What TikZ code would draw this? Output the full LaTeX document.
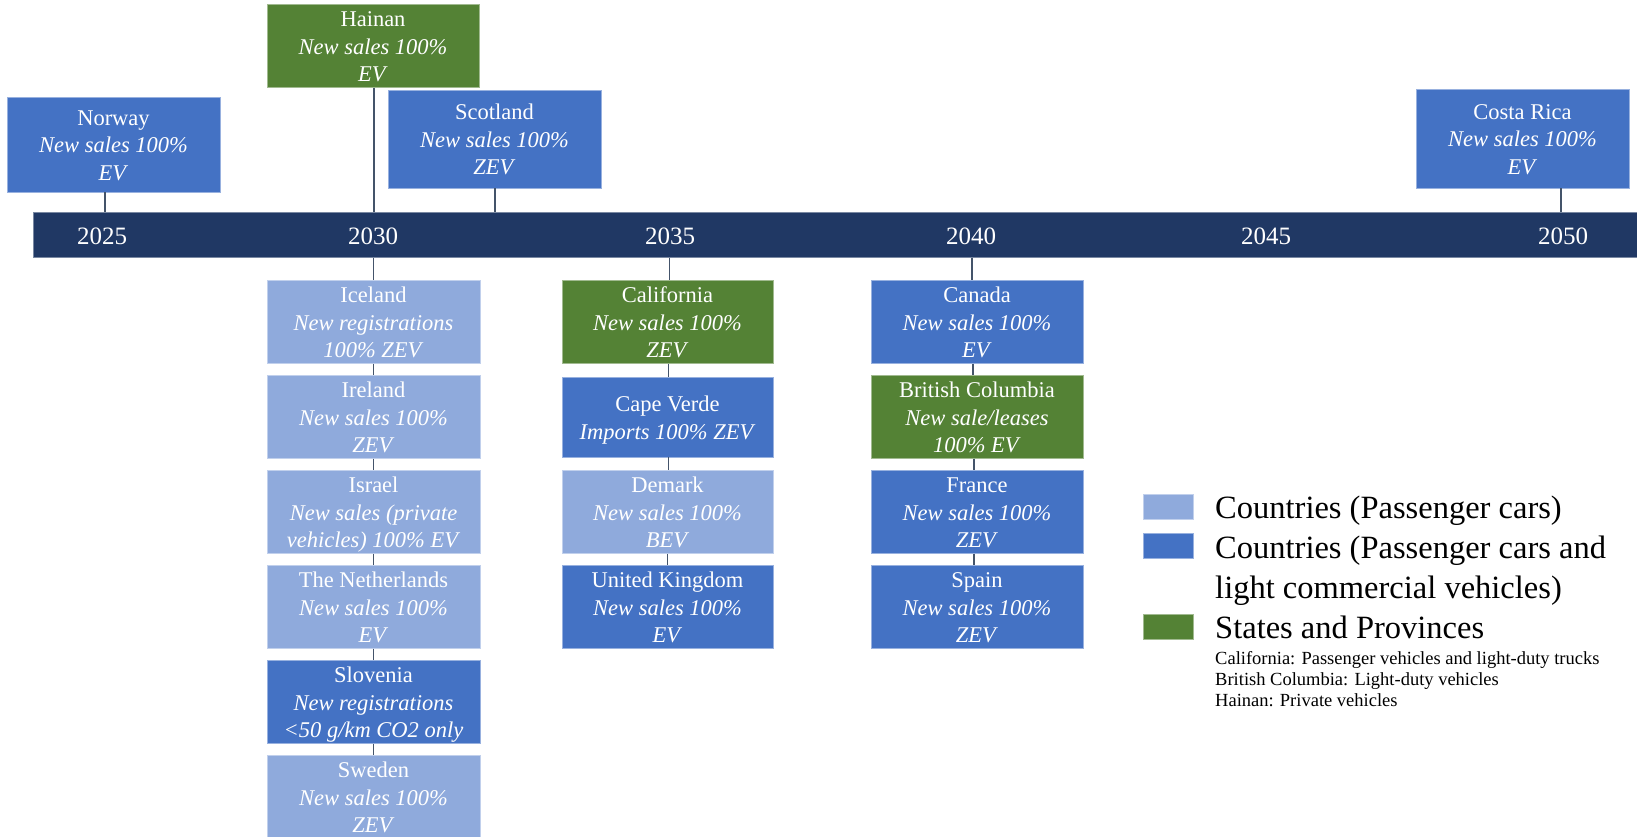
\documentclass[tikz,border=0pt]{standalone}
\usepackage{fontspec}
\setmainfont{Liberation Serif}
\definecolor{lb}{HTML}{8FAADC}
\definecolor{mb}{HTML}{4472C4}
\definecolor{gr}{HTML}{548235}
\definecolor{navy}{HTML}{203864}
\definecolor{connc}{HTML}{44546A}
\newcommand\boxfont{\fontsize{22.5}{27.5}\selectfont}
\newcommand\yearfont{\fontsize{25}{29}\selectfont}
\newcommand\legfont{\fontsize{32.5}{39}\selectfont}
\newcommand\smallleg{\fontsize{18.5}{21}\selectfont}
\newcommand\stl[1]{\rule[-5.5pt]{0pt}{27.5pt}#1}
\tikzset{
  ev/.style={rectangle, fill=#1, draw=#1!55!white, line width=0.8pt, text=white,
    inner sep=0pt, minimum width=213pt, minimum height=80pt, align=center, font=\boxfont},
  conn/.style={draw=connc, line width=1.3pt},
  year/.style={text=white, font=\yearfont, inner sep=0pt},
  swatch/.style={rectangle, fill=#1, draw=#1!55!white, line width=0.6pt, inner sep=0pt,
    minimum width=50pt, minimum height=25pt},
  legtext/.style={font=\legfont, inner sep=0pt, anchor=base west},
  legsmall/.style={font=\smallleg, inner sep=0pt, anchor=base west},
}
\begin{document}
\begin{tikzpicture}[x=1pt, y=-1pt]
\clip (0,0) rectangle (1637,836);
\fill[white] (0,0) rectangle (1637,836);
% timeline bar
\node[rectangle, fill=navy, draw=navy!60!white, line width=0.6pt, inner sep=0pt,
  minimum width=1604pt, minimum height=45pt, anchor=north west] (bar) at (33,212) {};
\node[year] (y2025) at (102,236) {2025};
\node[year] (y2030) at (373,236) {2030};
\node[year] (y2035) at (670,236) {2035};
\node[year] (y2040) at (971,236) {2040};
\node[year] (y2045) at (1266,236) {2045};
\node[year] (y2050) at (1563,236) {2050};
% top boxes
\node[ev=mb, minimum height=95pt] (norway) at (113.5,144.5)
  {\stl{Norway}\\\stl{\textit{New sales 100\%}}\\\stl{\textit{EV}}};
\node[ev=gr, minimum width=212pt, minimum height=82pt] (hainan) at (373,46)
  {\stl{Hainan}\\\stl{\textit{New sales 100\%}}\\\stl{\textit{EV}}};
\node[ev=mb, minimum height=98pt] (scotland) at (494.5,139)
  {\stl{Scotland}\\\stl{\textit{New sales 100\%}}\\\stl{\textit{ZEV}}};
\node[ev=mb, minimum height=99pt] (costarica) at (1522.5,138.5)
  {\stl{Costa Rica}\\\stl{\textit{New sales 100\%}}\\\stl{\textit{EV}}};
% 2030 column
\node[ev=lb] (iceland) at (373.5,322)
  {\stl{Iceland}\\\stl{\textit{New registrations}}\\\stl{\textit{100\% ZEV}}};
\node[ev=lb] (ireland) at (373.5,417)
  {\stl{Ireland}\\\stl{\textit{New sales 100\%}}\\\stl{\textit{ZEV}}};
\node[ev=lb] (israel) at (373.5,512)
  {\stl{Israel}\\\stl{\textit{New sales (private}}\\\stl{\textit{vehicles) 100\% EV}}};
\node[ev=lb] (netherlands) at (373.5,607)
  {\stl{The Netherlands}\\\stl{\textit{New sales 100\%}}\\\stl{\textit{EV}}};
\node[ev=mb] (slovenia) at (373.5,702)
  {\stl{Slovenia}\\\stl{\textit{New registrations}}\\\stl{\textit{<50 g/km CO2 only}}};
\node[ev=lb] (sweden) at (373.5,797)
  {\stl{Sweden}\\\stl{\textit{New sales 100\%}}\\\stl{\textit{ZEV}}};
% 2035 column
\node[ev=gr, minimum width=211pt] (california) at (667.5,322)
  {\stl{California}\\\stl{\textit{New sales 100\%}}\\\stl{\textit{ZEV}}};
\node[ev=mb, minimum width=211pt] (capeverde) at (667.5,417)
  {\stl{Cape Verde}\\\stl{\textit{Imports 100\% ZEV}}};
\node[ev=lb, minimum width=211pt] (demark) at (667.5,512)
  {\stl{Demark}\\\stl{\textit{New sales 100\%}}\\\stl{\textit{BEV}}};
\node[ev=mb, minimum width=211pt] (uk) at (667.5,607)
  {\stl{United Kingdom}\\\stl{\textit{New sales 100\%}}\\\stl{\textit{EV}}};
% 2040 column
\node[ev=mb, minimum width=212pt] (canada) at (977,322)
  {\stl{Canada}\\\stl{\textit{New sales 100\%}}\\\stl{\textit{EV}}};
\node[ev=gr, minimum width=212pt] (bc) at (977,417)
  {\stl{British Columbia}\\\stl{\textit{New sale/leases}}\\\stl{\textit{100\% EV}}};
\node[ev=mb, minimum width=212pt] (france) at (977,512)
  {\stl{France}\\\stl{\textit{New sales 100\%}}\\\stl{\textit{ZEV}}};
\node[ev=mb, minimum width=212pt] (spain) at (977,607)
  {\stl{Spain}\\\stl{\textit{New sales 100\%}}\\\stl{\textit{ZEV}}};
% connectors above the bar
\draw[conn] ([xshift=-8.5pt]norway.south) -- ([xshift=-8.5pt]norway.south |- bar.north);
\draw[conn] ([xshift=1pt]hainan.south) -- ([xshift=1pt]hainan.south |- bar.north);
\draw[conn] ([xshift=0.5pt]scotland.south) -- ([xshift=0.5pt]scotland.south |- bar.north);
\draw[conn] ([xshift=38.5pt]costarica.south) -- ([xshift=38.5pt]costarica.south |- bar.north);
% 2030 column connectors
\draw[conn] (iceland.north |- bar.south) -- (iceland.north);
\draw[conn] (iceland.south) -- (ireland.north);
\draw[conn] (ireland.south) -- (israel.north);
\draw[conn] (israel.south) -- (netherlands.north);
\draw[conn] (netherlands.south) -- (slovenia.north);
\draw[conn] (slovenia.south) -- (sweden.north);
% 2035 column connectors
\draw[conn] ([xshift=2pt]california.north |- bar.south) -- ([xshift=2pt]california.north);
\draw[conn] ([xshift=1pt]california.south) -- ([xshift=1pt]capeverde.north);
\draw[conn] ([xshift=1pt]capeverde.south) -- ([xshift=1pt]demark.north);
\draw[conn] (demark.south) -- (uk.north);
% 2040 column connectors
\draw[conn] ([xshift=-5pt]canada.north |- bar.south) -- ([xshift=-5pt]canada.north);
\draw[conn] ([xshift=-4pt]canada.south) -- ([xshift=-4pt]bc.north);
\draw[conn] ([xshift=-3pt]bc.south) -- ([xshift=-3pt]france.north);
\draw[conn] ([xshift=-3pt]france.south) -- ([xshift=-3pt]spain.north);
% legend
\node[swatch=lb] (sw1) at (1168,506.5) {};
\node[swatch=mb] (sw2) at (1168,546) {};
\node[swatch=gr] (sw3) at (1168,626.5) {};
\node[legtext] (lt1) at (1215,518) {Countries (Passenger cars)};
\node[legtext] (lt2) at (1215,558) {Countries (Passenger cars and};
\node[legtext] (lt3) at (1215,598) {light commercial vehicles)};
\node[legtext] (lt4) at (1215,638) {States and Provinces};
\node[legsmall] (ls1) at (1215,664) {California: Passenger vehicles and light-duty trucks};
\node[legsmall] (ls2) at (1215,685) {British Columbia: Light-duty vehicles};
\node[legsmall] (ls3) at (1215,706) {Hainan: Private vehicles};
\end{tikzpicture}
\end{document}
